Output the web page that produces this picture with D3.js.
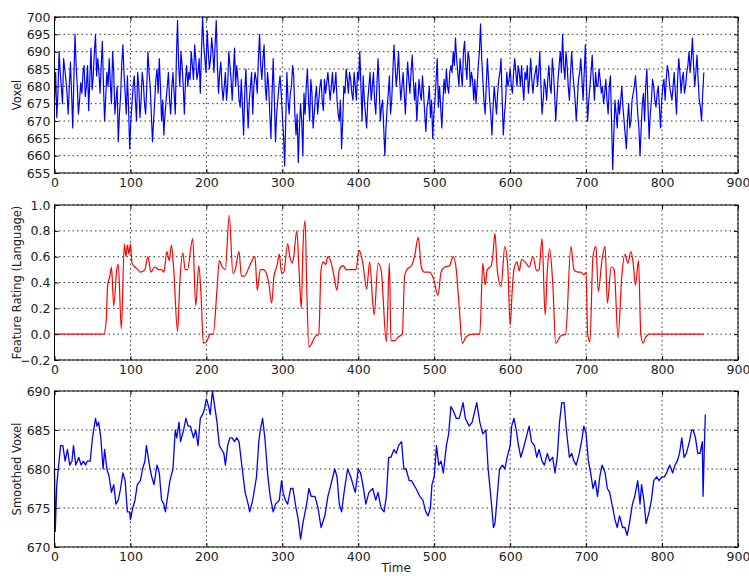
<!DOCTYPE html>
<html>
<head>
<meta charset="utf-8">
<script src="https://d3js.org/d3.v7.min.js"></script>
<style>
body { margin: 0; background: #fff; }
text { font-family: "DejaVu Sans", sans-serif; fill: #222; }
</style>
</head>
<body>
<svg width="749" height="576"></svg>
<script>
// raw voxel signal, read at t = 0, 3, ... 855
var voxelStep = 3;
var voxelRaw = [676,671,690,680,688,682,672,687,668,695,
680,676,678,686,680,673,691,683,695,688,
678,693,670,684,688,675,684,676,664,677,
692,678,683,662,675,683,670,680,676,681,
672,690,680,664,676,685,688,670,666,676,
684,672,684,672,699,680,686,672,686,684,
690,682,688,684,678,700,688,696,685,694,
684,699,678,687,676,684,680,686,676,691,
686,676,682,666,685,668,680,672,684,678,
695,682,692,676,680,665,688,664,676,683,
672,657,684,672,680,683,666,658,675,660,
672,685,670,678,672,680,676,682,673,678,
684,676,684,680,676,670,662,680,685,678,
682,676,680,684,690,670,676,668,680,676,
684,672,688,670,676,660,674,683,676,692,
680,690,676,684,672,687,678,689,676,670,
682,676,678,667,676,671,665,676,688,680,
668,682,685,678,686,690,694,684,688,680,
693,682,688,684,676,675,686,698,682,672,
688,676,666,680,672,682,688,666,676,680,
685,678,688,680,684,686,676,682,678,688,
678,684,680,690,672,682,676,686,678,684,
670,682,690,695,682,686,676,690,680,670,
682,688,676,692,670,680,689,676,680,685,
678,675,682,672,683,656,676,668,672,680,
670,662,675,670,678,683,672,660,675,670,
685,665,676,680,674,680,668,680,676,686,
680,676,684,672,688,678,684,680,686,684,
694,680,689,676,670,684];
// raw voxel signal, read at t = 1.5, 4.5, ... 853.5
var voxelMid = [684,678,684,675,685,678,680,678,682,686,
672,681,684,677,686,682,679,690,683,684,
686,680,677,680,681,690,672,680,672,686,
684,672,674,670,680,676,684,671,684,675,
680,684,672,670,682,678,680,676,672,680,
676,680,678,688,686,690,680,682,680,682,
686,692,682,688,690,692,684,690,688,690,
692,686,684,680,680,676,690,682,684,680,
682,674,674,678,676,676,684,680,682,688,
686,688,680,684,672,678,676,672,680,678,
666,670,676,678,686,672,672,668,670,678,
680,676,682,668,677,672,680,676,682,681,
680,680,678,684,672,676,670,678,682,684,
678,684,676,682,680,683,672,676,684,680,
676,680,680,674,668,668,678,672,684,686,
684,682,680,678,680,682,684,682,681,676,
678,683,672,674,680,676,672,682,674,674,
676,678,680,684,684,686,688,680,684,690,
686,690,680,682,682,680,690,688,676,680,
682,672,674,676,678,684,676,672,684,682,
680,684,684,686,680,680,684,686,682,682,
682,686,684,680,676,680,682,680,688,678,
676,686,684,686,690,680,684,684,676,676,
684,682,684,680,676,684,682,684,680,682,
680,678,676,680,670,666,672,676,676,674,
666,670,668,676,680,678,668,668,678,680,
674,672,682,676,678,674,676,682,682,684,
678,680,678,682,684,682,678,684,690,688,
686,684,682,674,678];

// feature rating (language)
var ratingTime = [0,65,68,70,73,75,78,82,84,88,92,94,96,98,100,102,106,110,113,119,123,127,132,137,141,144,148,151,154,157,162,165,169,172,175,182,186,190,193,196,200,203,205,209,214,217,221,225,230,235,238,243,246,250,257,264,267,271,275,279,282,286,289,293,296,299,302,307,310,313,315,319,322,325,327,330,332,335,338,343,348,351,354,357,360,364,368,372,375,380,384,397,401,406,411,415,419,421,426,430,437,441,443,448,453,458,461,464,470,474,479,483,487,494,499,505,509,514,520,525,529,533,537,542,551,560,564,567,570,575,577,580,583,588,593,597,600,603,605,609,612,615,621,625,630,635,638,642,646,649,652,656,660,667,673,680,684,689,693,697,700,702,705,709,713,716,721,725,728,733,737,742,747,751,755,759,762,765,769,772,775,778,783,855];
var ratingValue = [0,0,0.1,0.38,0.45,0.52,0.22,0.5,0.54,0.04,0.7,0.6,0.69,0.62,0.7,0.55,0.52,0.5,0.48,0.5,0.6,0.48,0.52,0.5,0.5,0.48,0.64,0.57,0.69,0.5,0.02,0.4,0.63,0.5,0.5,0.74,0.22,0.53,0.3,-0.07,-0.06,-0.02,0,0,0.35,0.57,0.52,0.5,0.92,0.47,0.5,0.64,0.45,0.45,0.53,0.6,0.34,0.5,0.5,0.47,0.4,0.24,0.45,0.53,0.62,0.47,0.48,0.7,0.6,0.55,0.6,0.8,0.5,0.2,0.65,0.88,0.4,-0.1,-0.08,-0.02,0,0.5,0.56,0.54,0.6,0.56,0.45,0.34,0.5,0.53,0.5,0.5,0.65,0.55,0.35,0.56,0.25,0.15,0.55,0.5,-0.06,0.55,-0.05,-0.05,-0.02,0,0.45,0.5,0.53,0.6,0.75,0.52,0.48,0.48,0.43,0.3,0.48,0.52,0.53,0.6,0.5,0.2,-0.07,-0.02,0,0,0.55,0.38,0.5,0.53,0.6,0.78,0.5,0.37,0.68,0.5,0.07,0.37,0.5,0.56,0.49,0.58,0.55,0.52,0.6,0.49,0.5,0.74,0.15,0.5,0.66,0.4,-0.07,-0.01,0,0.68,0.5,0.48,0.48,0.46,0.48,0,-0.06,0.6,0.68,0.33,0.58,0.68,0.24,0.52,0.5,-0.03,0.45,0.62,0.55,0.64,0.55,0.38,0.57,0,-0.07,-0.03,0,0];

// smoothed voxel
var smoothTime = [0,1,3,5,8,11,14,17,20,23,25,28,32,35,38,41,43,47,50,54,56,58,61,64,66,69,72,75,78,81,84,87,90,93,96,99,100,103,106,109,113,116,119,121,125,128,131,135,138,141,144,146,149,152,156,159,161,164,166,170,173,176,179,183,186,189,192,195,197,200,203,205,208,211,214,217,220,223,225,228,231,234,237,240,243,246,251,255,257,261,266,269,271,274,277,281,284,288,291,296,299,301,304,307,311,314,318,321,324,327,332,335,338,343,347,351,356,360,364,369,372,375,378,382,386,390,393,396,400,403,406,410,414,419,423,426,430,434,437,440,443,447,450,453,457,460,463,467,470,473,476,481,485,489,492,495,497,500,503,506,509,512,516,519,522,525,529,533,538,541,546,550,556,560,564,568,571,575,578,580,583,586,590,593,596,600,602,605,608,611,614,617,621,625,628,632,635,638,642,645,649,652,656,659,662,665,668,671,674,678,681,684,687,691,694,697,700,703,706,709,712,715,718,721,725,728,731,735,738,741,744,748,751,754,757,761,764,768,771,773,776,779,783,786,789,793,796,800,803,806,810,814,817,820,823,826,829,832,836,839,841,844,847,850,852,853,854,856,857];
var smoothValue = [680,672,678,680,683,683,681,682.5,680.5,681,683,680.5,681.5,680.5,681,680.5,681,681,684,686.5,685.5,686,684,680,682.5,680,679,677,678,675.5,676,677.5,679.5,678.5,674.5,674.5,673.5,675,676,678,678.5,680,681,683,680.5,679,678,680.5,679.5,676,675.5,674.5,676.5,678.5,680,685,684,686,683.5,685,686.5,685.5,685.5,684,685,683,686.5,687,687.5,689,688,687,690,688,686,683,682.5,682,680.5,683,684,684,683.5,684,683.5,681,677,675.5,674.5,676,679,683.5,685,686.5,684,679,676.5,674.5,675.5,676,678.5,677,676,675.5,677.5,677.5,675,673.5,671,673,675.5,677.5,676.5,676.5,675,672.5,674,676.5,678,680,679,675.5,674.5,677.5,680,679,678,677,680,679.5,678,675.5,677,677.5,676,677,675,674.5,676.5,681.5,681.5,682.5,682,683,683.5,680,680,678.5,678.5,678,677.5,676.5,676,674.5,674,675,678,679,683,680.5,681,679.5,683,684.5,688,687.5,686.5,686.5,688.5,686.5,685.5,686,688.5,686,684.5,685,680,676,672.5,673,676.5,680,680.5,680,681.5,683,685.5,686.5,685,683,681.5,682.5,684,685.5,683.5,683,681.5,682.5,681,680.5,682,681,681.5,679.5,681.5,686,688.5,688.5,685,681.5,682,681,680.5,682,683.5,685.5,684.5,681,679.5,677.5,678.5,676.5,679,680.5,679.5,677.5,677,675,673.5,672.5,674,672.5,672.5,671.5,673,675.5,676.5,678.5,675.5,678,676,673,674.5,676,678.5,679,678.5,679,679,679.5,680.5,679.5,680.5,681,682,684,681.5,682,683.5,685,685,684,682,682,683,683.5,676.5,684,687];

var xTicks = [0,100,200,300,400,500,600,700,800,900];
var voxelTicks = [655,660,665,670,675,680,685,690,695,700];
var ratingTicks = [-0.2,0.0,0.2,0.4,0.6,0.8,1.0];
var smoothTicks = [670,675,680,685,690];

var svg = d3.select("svg");
var left = 54.5, right = 738;

var x = d3.scaleLinear().domain([0, 900]).range([left, right]);

function panel(top, bottom, yDomain, yTicks, yFmt, label, pts, color, curve, lw) {
  var y = d3.scaleLinear().domain(yDomain).range([bottom, top]);
  var g = svg.append("g");

  // dotted grid
  g.selectAll(".gx").data(xTicks).enter().append("line")
    .attr("x1", d => x(d)).attr("x2", d => x(d))
    .attr("y1", top).attr("y2", bottom)
    .attr("stroke", "#000").attr("stroke-width", 0.8)
    .attr("stroke-dasharray", "1.5,3");
  g.selectAll(".gy").data(yTicks).enter().append("line")
    .attr("x1", left).attr("x2", right)
    .attr("y1", d => y(d)).attr("y2", d => y(d))
    .attr("stroke", "#000").attr("stroke-width", 0.8)
    .attr("stroke-dasharray", "1.5,3");

  var line = d3.line().x(d => x(d[0])).y(d => y(d[1])).curve(curve);
  g.append("path").datum(pts)
    .attr("fill", "none")
    .attr("stroke", color)
    .attr("stroke-width", lw)
    .attr("stroke-linejoin", "round")
    .attr("d", line);

  // axes with inward ticks
  g.append("g").attr("transform", "translate(0," + bottom + ")")
    .call(d3.axisBottom(x).tickValues(xTicks).tickSize(-4).tickPadding(5).tickFormat(d3.format("d")));
  g.append("g").attr("transform", "translate(" + left + ",0)")
    .call(d3.axisLeft(y).tickValues(yTicks).tickSize(-4).tickPadding(4).tickFormat(yFmt));
  g.append("g").attr("transform", "translate(" + right + ",0)")
    .call(d3.axisRight(y).tickValues(yTicks).tickSize(-4).tickFormat(""));
  g.append("g").attr("transform", "translate(0," + top + ")")
    .call(d3.axisTop(x).tickValues(xTicks).tickSize(-4).tickFormat(""));
  g.selectAll(".domain").remove();
  g.selectAll(".tick line").attr("stroke", "#000");
  g.selectAll(".tick text").attr("font-size", 12.5).attr("fill", "#222")
    .attr("font-family", "DejaVu Sans, sans-serif");

  g.append("rect")
    .attr("x", left).attr("y", top)
    .attr("width", right - left).attr("height", bottom - top)
    .attr("fill", "none").attr("stroke", "#000").attr("stroke-width", 1);

  g.append("text")
    .attr("transform", "translate(21," + ((top + bottom) / 2) + ") rotate(-90)")
    .attr("text-anchor", "middle")
    .attr("font-size", 11.5)
    .text(label);
}

// merge the two readings of the raw signal in time order
var voxelPts = [];
voxelRaw.forEach(function(v, i) {
  voxelPts.push([i * voxelStep, v]);
  if (i < voxelMid.length) voxelPts.push([i * voxelStep + voxelStep / 2, voxelMid[i]]);
});
var ratingPts = ratingTime.map((t, i) => [t, ratingValue[i]]);
var smoothPts = smoothTime.map((t, i) => [t, smoothValue[i]]);

panel(17, 173, [655, 700], voxelTicks, d3.format("d"), "Voxel", voxelPts, "#0000ff", d3.curveLinear, 1.2);
panel(205, 360, [-0.2, 1.0], ratingTicks, d3.format(".1f"), "Feature Rating (Language)", ratingPts, "#ff0000", d3.curveMonotoneX, 1.2);
panel(391, 547, [670, 690], smoothTicks, d3.format("d"), "Smoothed Voxel", smoothPts, "#0000ff", d3.curveLinear, 1.3);

svg.append("text")
  .attr("x", x(450)).attr("y", 572)
  .attr("text-anchor", "middle")
  .attr("font-size", 12)
  .text("Time");
</script>
</body>
</html>
